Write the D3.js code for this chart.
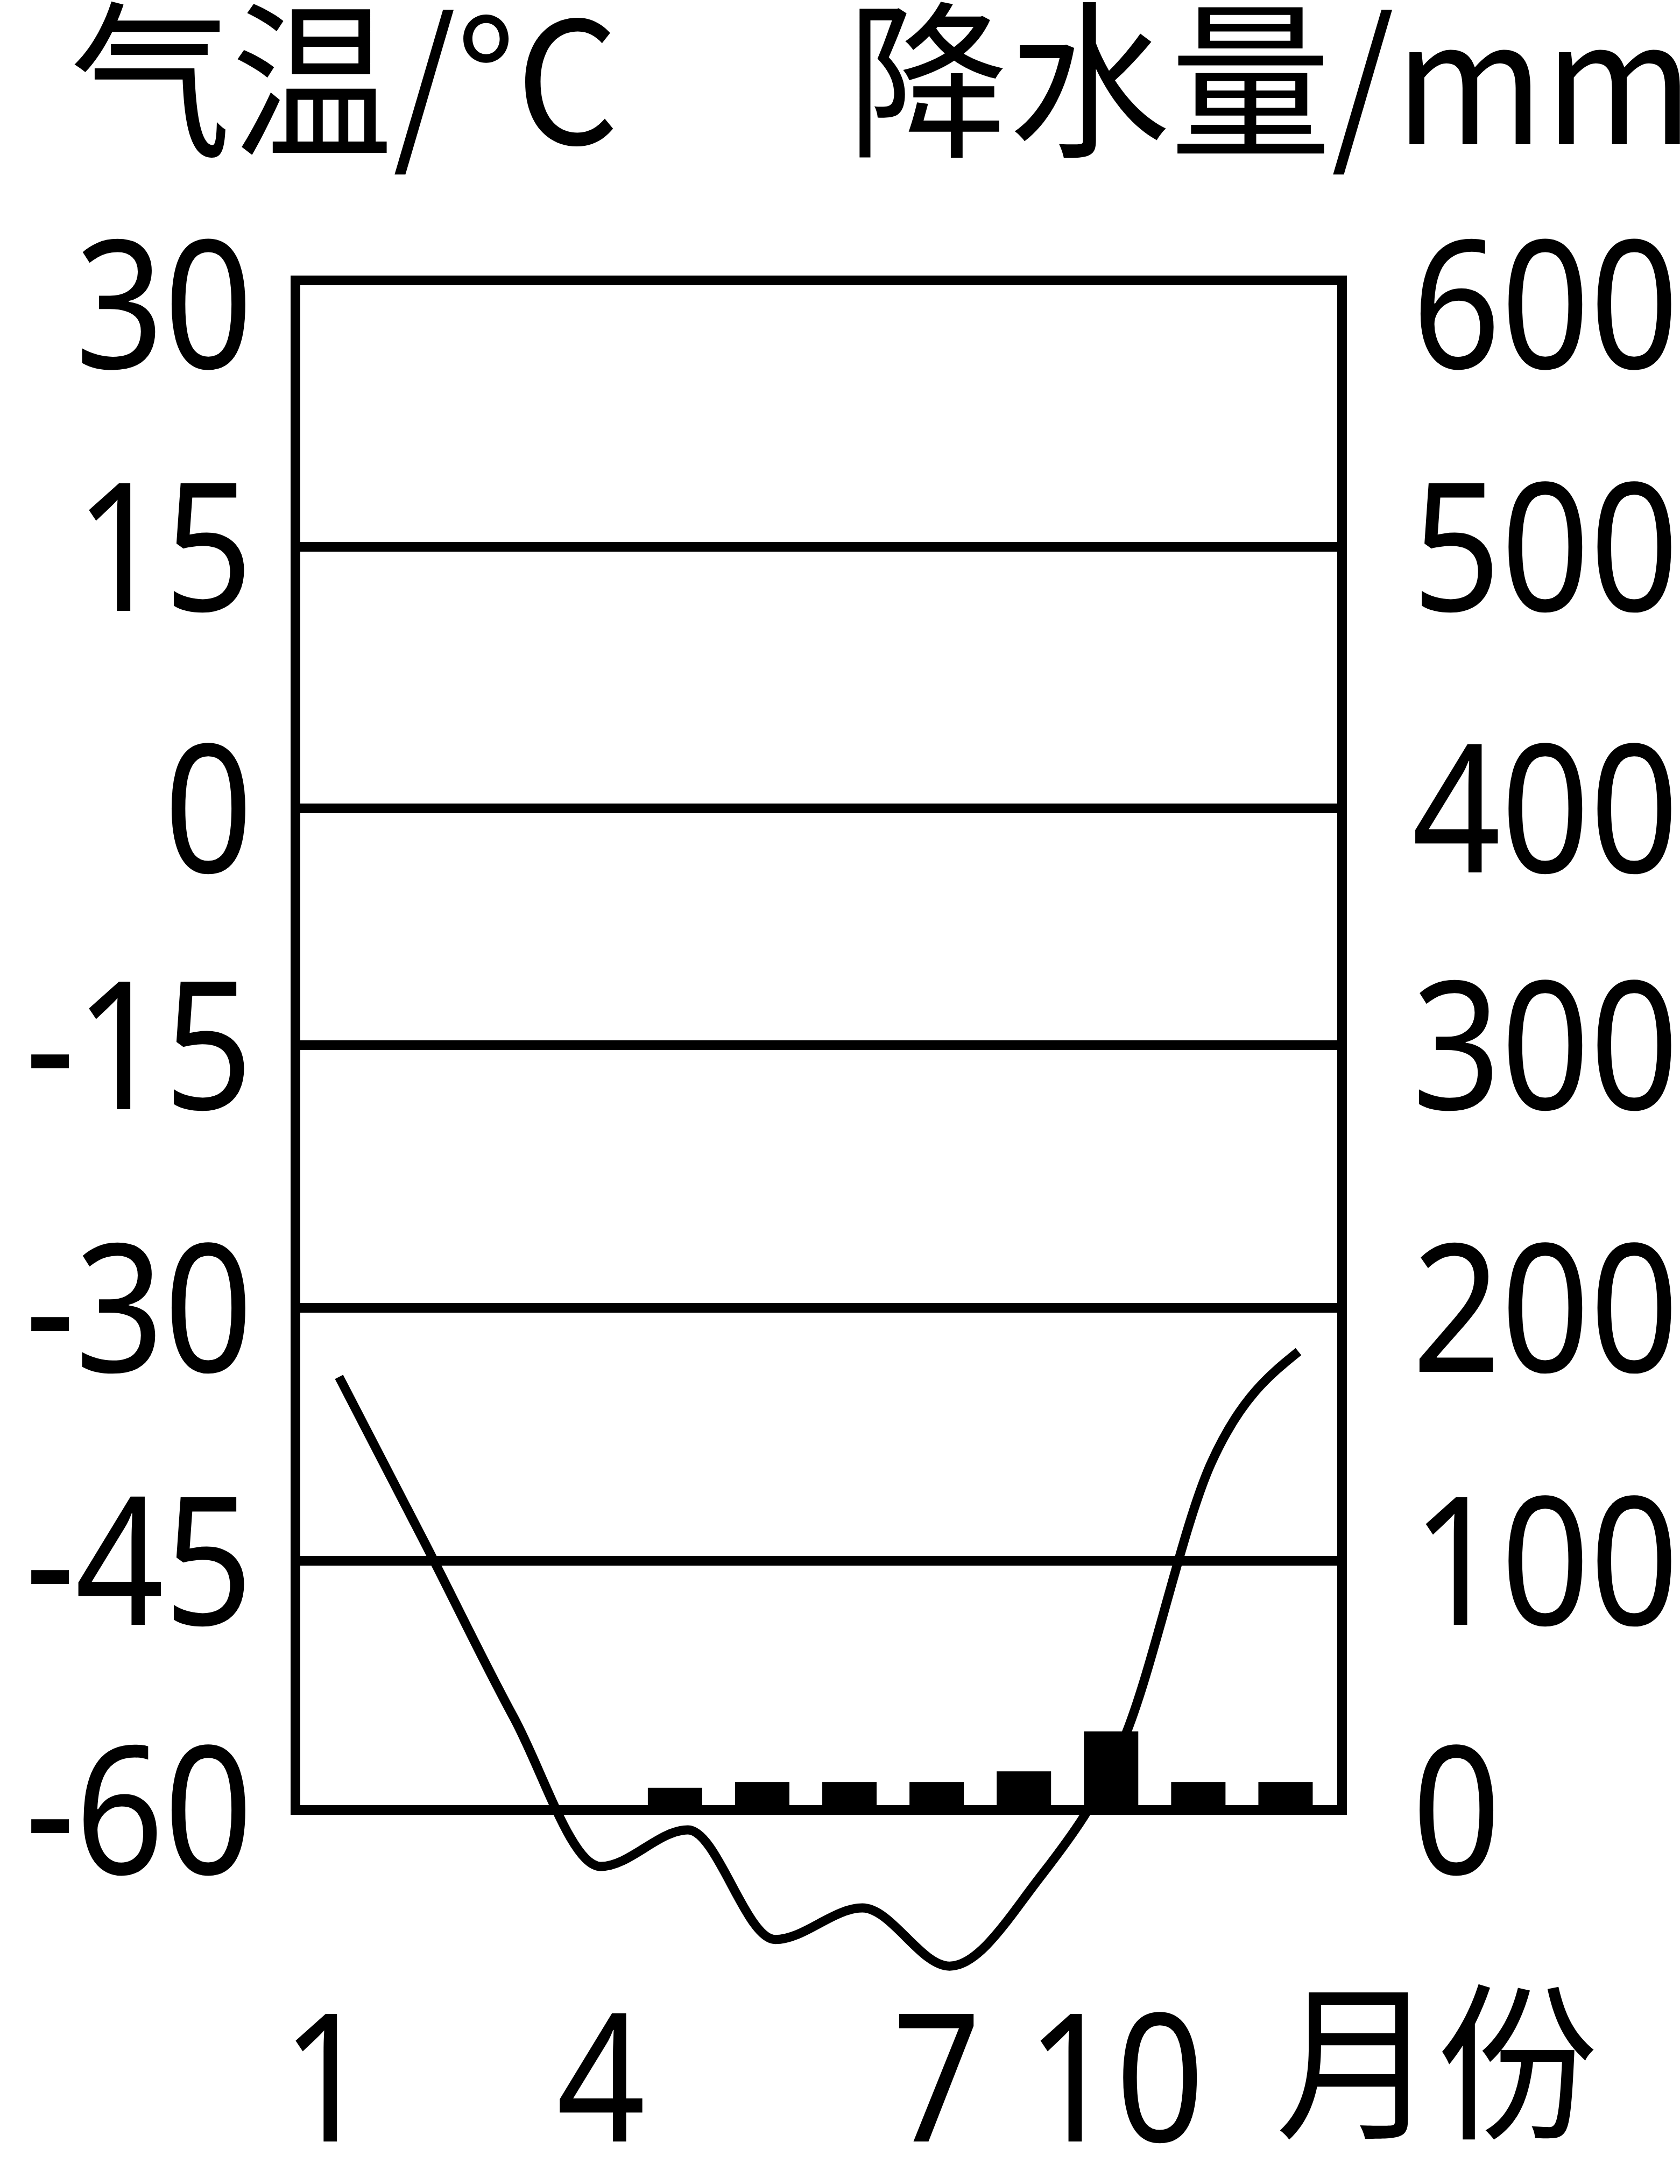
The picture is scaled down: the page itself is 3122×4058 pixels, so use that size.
<!DOCTYPE html>
<html>
<head>
<meta charset="utf-8">
<script src="https://cdn.jsdelivr.net/npm/d3@7"></script>
<style>
  body { margin: 0; background: #ffffff; }
  .tick text { fill: #000; }
</style>
</head>
<body>
<div id="chart"></div>
<script>
// chart data
var months = [1, 2, 3, 4, 5, 6, 7, 8, 9, 10, 11, 12];
var temps = [-34.1, -44.1, -54.4, -63.4, -61.2, -67.8, -65.9, -69.4, -64.3, -55.7, -39.2, -32.6];
var precip = [0, 0, 0, 0, 8.9, 11.2, 11.2, 11.2, 15.5, 31.5, 11.2, 11.2];
var tempTicks = [30, 15, 0, -15, -30, -45, -60];
var precipTicks = [600, 500, 400, 300, 200, 100, 0];
var monthLabels = ['1', '4', '7', '10'];
var monthLabelAt = [0.85, 4, 7.85, 9.9];

var width = 3122;
var height = 4058;

// plot box (note: "top" is taken by window.top, so use other names)
var boxL = 549, boxR = 2494, boxT = 521, boxB = 3363;
var gridY = [521, 1016, 1502, 1942, 2430, 2900, 3363]; // grid is not evenly spaced in the original

var numFont = 'Noto Sans';
var cjkFont = 'Noto Sans CJK SC';
var numSize = 332;
var squeeze = 0.87; // digits are drawn narrow

var svg = d3.select('#chart')
    .append('svg')
    .attr('width', width)
    .attr('height', height);

svg.append('rect').attr('width', width).attr('height', height).attr('fill', '#fff');

// scales
var x = d3.scaleLinear().domain([0.5, 12.5]).range([boxL, boxR]);
var yT = d3.scaleLinear().domain(tempTicks).range(gridY);
var yP = d3.scaleLinear().domain(precipTicks).range(gridY);

// horizontal grid lines (inner ones)
svg.append('g')
    .selectAll('line')
    .data(tempTicks.slice(1, -1))
    .enter()
    .append('line')
    .attr('x1', boxL)
    .attr('x2', boxR)
    .attr('y1', function(d) { return yT(d); })
    .attr('y2', function(d) { return yT(d); })
    .attr('stroke', '#000')
    .attr('stroke-width', 18);

// precipitation bars
var barW = 101;
svg.append('g')
    .selectAll('rect')
    .data(precip.map(function(v, i) { return {m: months[i], v: v}; }).filter(function(d) { return d.v > 0; }))
    .enter()
    .append('rect')
    .attr('x', function(d) { return x(d.m) - barW / 2 - 24; })
    .attr('y', function(d) { return yP(d.v); })
    .attr('width', barW)
    .attr('height', function(d) { return yP(0) - yP(d.v); })
    .attr('fill', '#000');

// temperature curve
var line = d3.line()
    .x(function(d, i) { return x(months[i]); })
    .y(function(d) { return yT(d); })
    .curve(d3.curveMonotoneX);

svg.append('path')
    .datum(temps)
    .attr('d', line)
    .attr('fill', 'none')
    .attr('stroke', '#000')
    .attr('stroke-width', 17);

// frame
svg.append('rect')
    .attr('x', boxL)
    .attr('y', boxT)
    .attr('width', boxR - boxL)
    .attr('height', boxB - boxT)
    .attr('fill', 'none')
    .attr('stroke', '#000')
    .attr('stroke-width', 18);

// axes: only the labels are shown, with a plain hyphen for minus
// the top label sits a little low in the original
function styleAxis(g, anchor, topVal) {
    g.select('.domain').remove();
    g.selectAll('.tick line').remove();
    g.selectAll('.tick text')
        .attr('x', 0)
        .attr('dy', function(d) { return d === topVal ? '0.49em' : '0.357em'; })
        .attr('text-anchor', anchor)
        .attr('transform', 'scale(' + squeeze + ',1)')
        .style('font-family', numFont)
        .style('font-size', numSize + 'px');
}

var leftAxis = d3.axisLeft(yT)
    .tickValues(tempTicks)
    .tickFormat(function(d) { return String(d); })
    .tickSize(0)
    .tickPadding(0);
svg.append('g')
    .attr('transform', 'translate(470,0)')
    .call(leftAxis)
    .call(styleAxis, 'end', 30);

var rightAxis = d3.axisRight(yP)
    .tickValues(precipTicks)
    .tickFormat(function(d) { return String(d); })
    .tickSize(0)
    .tickPadding(0);
svg.append('g')
    .attr('transform', 'translate(2624,0)')
    .call(rightAxis)
    .call(styleAxis, 'start', 600);

// month labels under the box
var bottomAxis = d3.axisBottom(x)
    .tickValues(monthLabelAt)
    .tickFormat(function(d, i) { return monthLabels[i]; })
    .tickSize(0)
    .tickPadding(0);
var xg = svg.append('g')
    .attr('transform', 'translate(0,3979)')
    .call(bottomAxis);
xg.select('.domain').remove();
xg.selectAll('.tick text')
    .attr('y', 0)
    .attr('dy', 0)
    .attr('text-anchor', 'middle')
    .attr('transform', 'scale(' + squeeze + ',1)')
    .style('font-family', numFont)
    .style('font-size', numSize + 'px');

// titles, a touch taller than wide
function title(str, tx, ty) {
    svg.append('text')
        .attr('transform', 'translate(' + tx + ',' + ty + ') scale(1,1.05)')
        .style('font-family', cjkFont)
        .style('font-size', '300px')
        .text(str);
}
title('气温/°C', 130, 268);
title('降水量/mm', 1574, 268);
title('月份', 2370, 3950);
</script>
</body>
</html>
